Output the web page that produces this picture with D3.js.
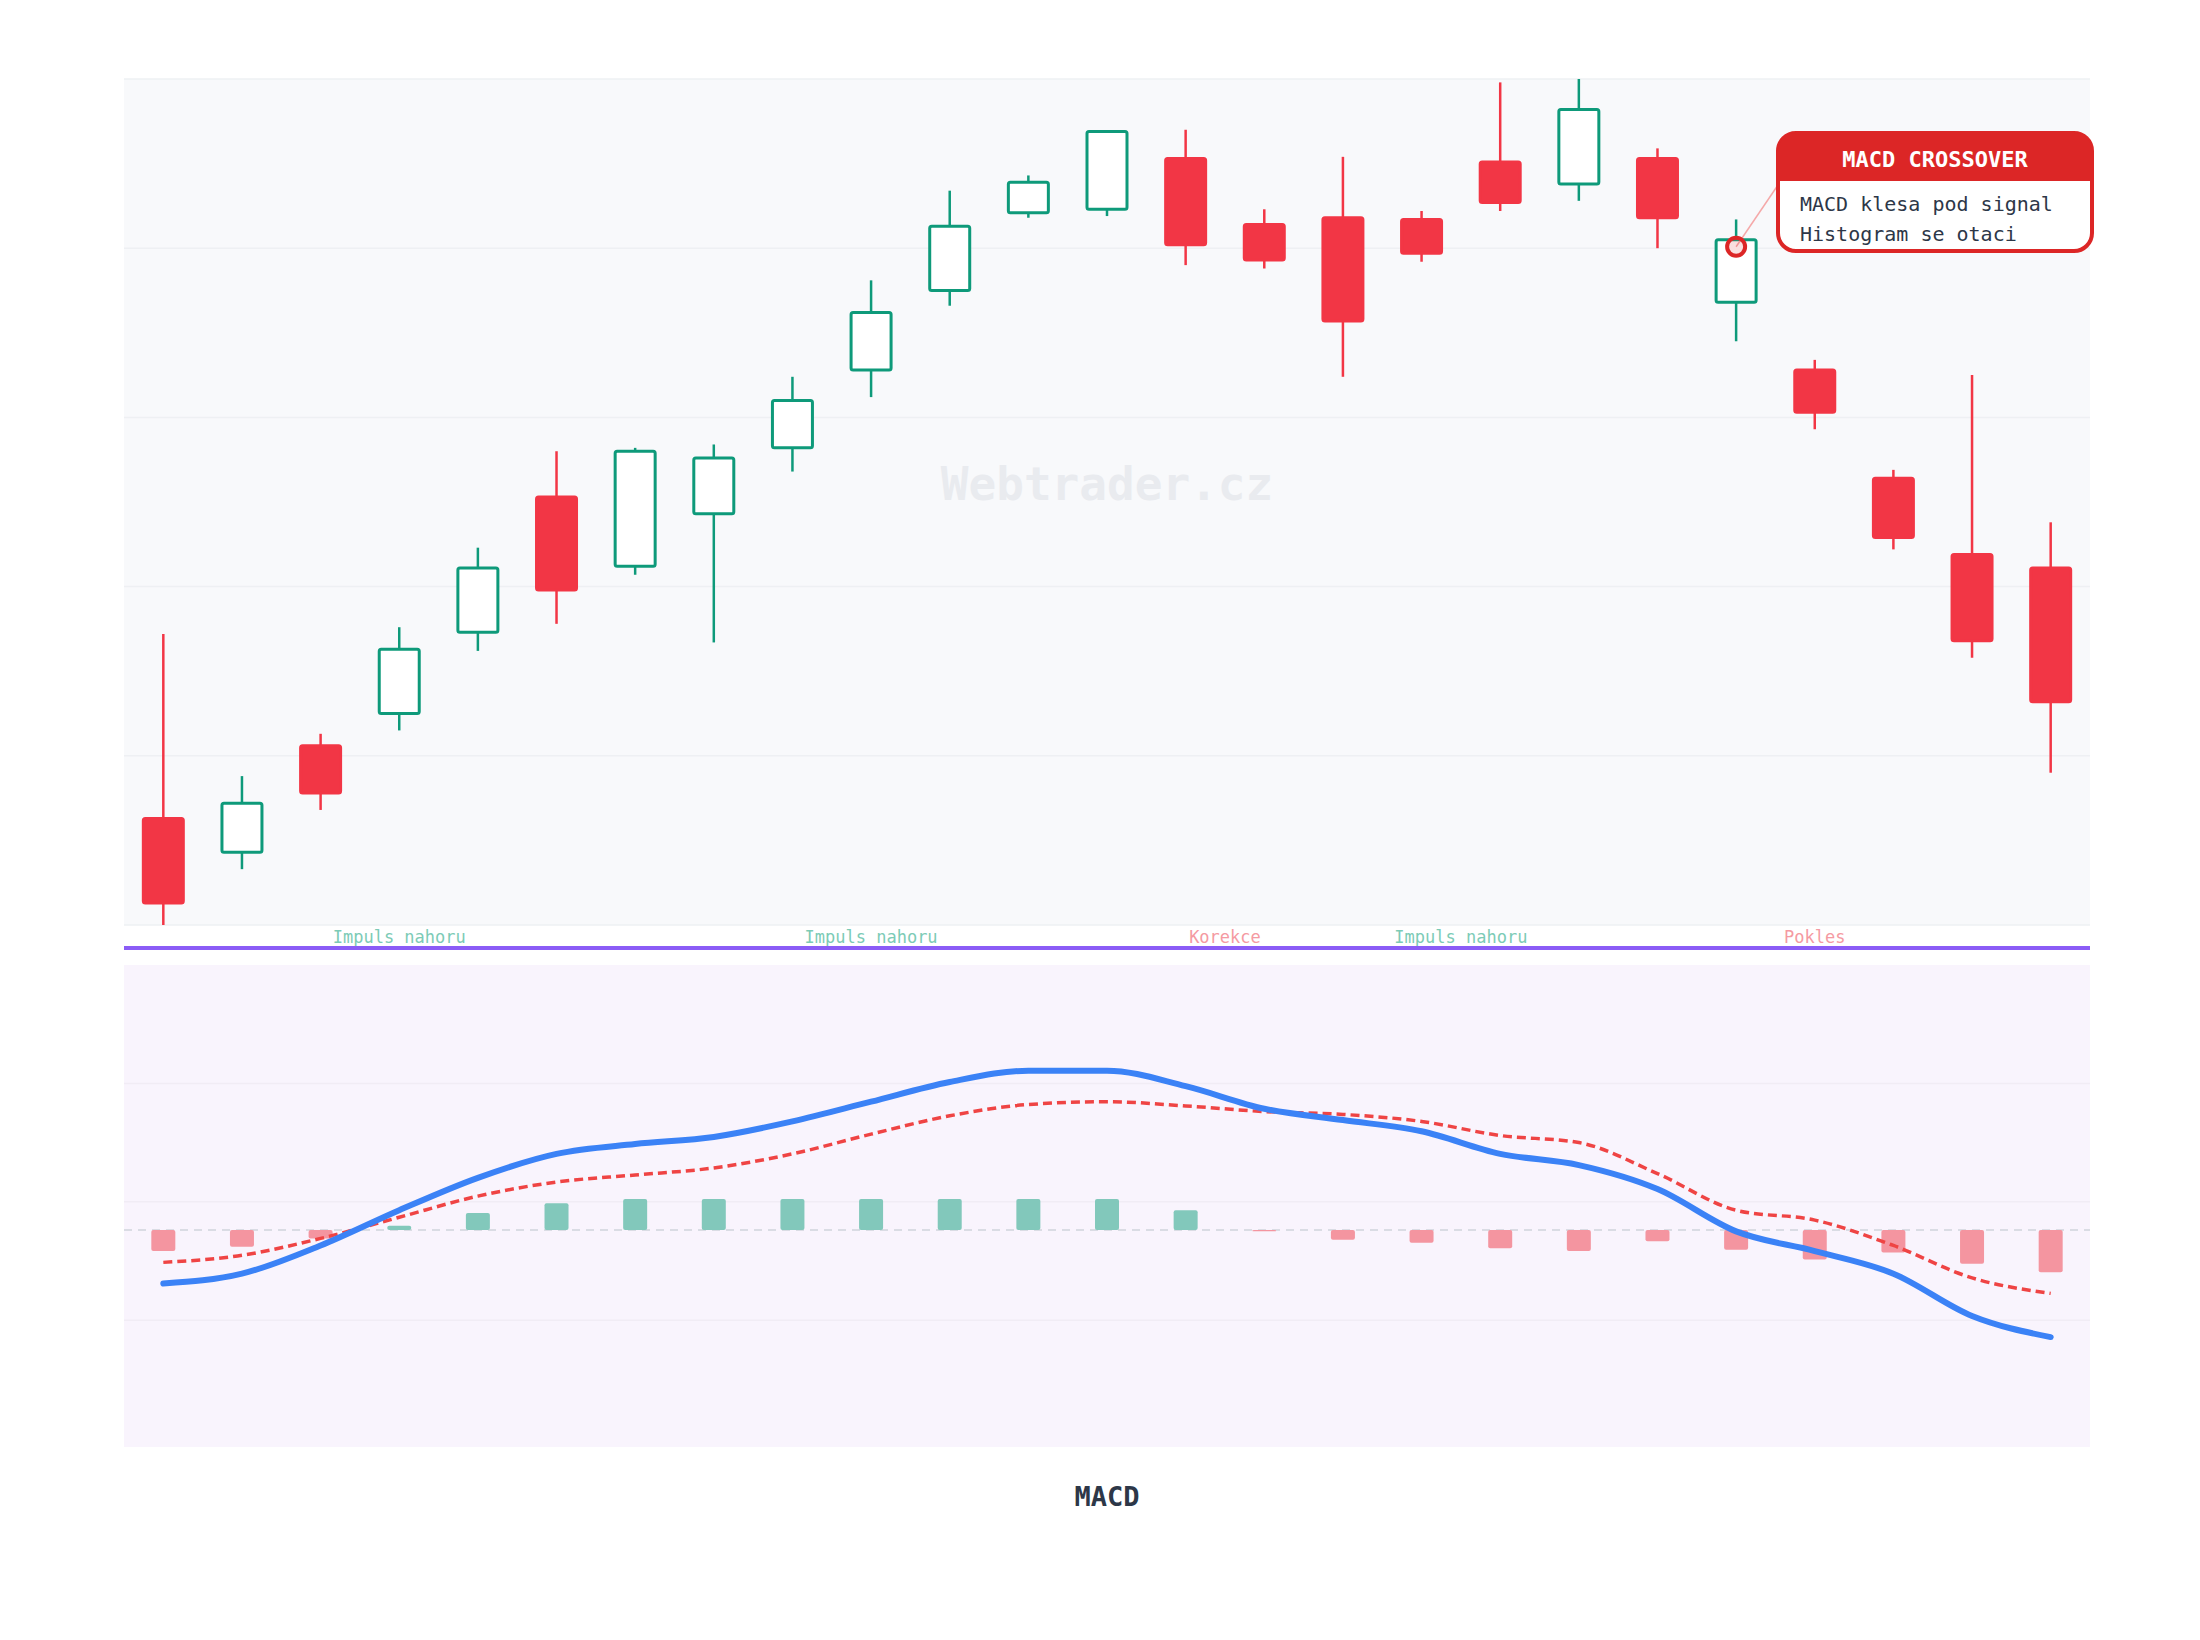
<!DOCTYPE html>
<html><head><meta charset="utf-8">
<script src="https://cdn.jsdelivr.net/npm/d3@7"></script>
<style>body{margin:0;background:#fff}svg{display:block}text{font-family:"DejaVu Sans Mono",monospace}</style>
</head><body><svg id="c" width="2200" height="1640"></svg>
<script>
const open  = [106.3,104.3,110.6,112.5,117.3,125.3,121.2,124.3,128.2,132.8,137.5,142.1,142.3,145.3,141.4,141.8,141.7,145.1,143.8,145.3,136.8,132.8,126.4,121.9,121.1];
const close = [101.3,107.2,107.8,116.3,121.1,119.8,128.0,127.6,131.0,136.2,141.3,143.9,146.9,140.2,139.3,135.7,139.7,142.7,148.2,141.8,140.5,130.3,122.9,116.8,113.2];
const high  = [117.2,108.8,111.3,117.6,122.3,128.0,128.2,128.4,132.4,138.1,143.4,144.3,146.9,147.0,142.3,145.4,142.2,149.8,150.0,145.9,141.7,133.4,126.9,132.5,123.8];
const low   = [100.0,103.3,106.8,111.5,116.2,117.8,120.7,116.7,126.8,131.2,136.6,141.8,141.9,139.0,138.8,132.4,139.2,142.2,142.8,140.0,134.5,129.3,122.2,115.8,109.0];
const macd  = [-1.9,-1.55,-0.55,0.7,1.85,2.7,3.05,3.3,3.85,4.55,5.25,5.65,5.65,5.1,4.3,3.9,3.5,2.7,2.3,1.45,-0.05,-0.75,-1.55,-3.05,-3.8];
const signal= [-1.15,-0.9,-0.3,0.45,1.2,1.7,1.95,2.2,2.7,3.4,4.05,4.45,4.55,4.4,4.2,4.1,3.85,3.35,3.1,2.0,0.7,0.35,-0.55,-1.7,-2.25];
const hist  = [-0.75,-0.6,-0.3,0.15,0.6,0.95,1.1,1.1,1.1,1.1,1.1,1.1,1.1,0.7,-0.05,-0.35,-0.45,-0.65,-0.75,-0.4,-0.7,-1.05,-0.8,-1.2,-1.5];
const phases = [{label:"Impuls nahoru",at:3,up:true},{label:"Impuls nahoru",at:9,up:true},{label:"Korekce",at:13.5,up:false},{label:"Impuls nahoru",at:16.5,up:true},{label:"Pokles",at:21,up:false}];
const priceTicks=[100,110,120,130,140,150];
const macdTicks=[5.2,1.0,-3.2];

const idx=d3.range(open.length);
const svg=d3.select("#c");
const L=124,R=2090,T=79,B=925,MT=965,MB=1447;
const x=d3.scalePoint().domain(idx).range([L,R]).padding(0.5);
const y=d3.scaleLinear().domain([100,150]).range([B,T]);
const ym=d3.scaleLinear().domain([-7.7,9.4]).range([MB,MT]);
const xAt=v=>x(0)+v*x.step();
const G="#0e9a7a",Rd="#f23645";

svg.append("rect").attr("x",L).attr("y",T).attr("width",R-L).attr("height",B-T).attr("fill","#f8f9fb");
svg.selectAll(".pg").data(priceTicks).join("line").attr("x1",L).attr("x2",R).attr("y1",d=>y(d)).attr("y2",d=>y(d)).attr("stroke","#eef0f3").attr("stroke-width",1.5);
svg.append("text").attr("x",(L+R)/2).attr("y",500).attr("text-anchor","middle").attr("font-size",46).attr("font-weight","bold").attr("fill","#e9ebef").text("Webtrader.cz");

const c=svg.selectAll(".c").data(idx).join("g");
c.append("line").attr("x1",i=>x(i)).attr("x2",i=>x(i)).attr("y1",i=>y(high[i])).attr("y2",i=>y(low[i])).attr("stroke",i=>close[i]>=open[i]?G:Rd).attr("stroke-width",2.5);
c.append("rect").attr("x",i=>x(i)-20).attr("width",40)
 .attr("y",i=>y(Math.max(open[i],close[i]))).attr("height",i=>Math.abs(y(open[i])-y(close[i])))
 .attr("rx",2).attr("fill",i=>close[i]>=open[i]?"#fff":Rd).attr("stroke",i=>close[i]>=open[i]?G:Rd).attr("stroke-width",3);

svg.selectAll(".ph").data(phases).join("text").attr("x",d=>xAt(d.at)).attr("y",943).attr("text-anchor","middle").attr("font-size",17).attr("fill",d=>d.up?"#7ccbb6":"#f59aa2").text(d=>d.label);
svg.append("line").attr("x1",L).attr("x2",R).attr("y1",948).attr("y2",948).attr("stroke","#8b5cf6").attr("stroke-width",4);

svg.append("rect").attr("x",L).attr("y",MT).attr("width",R-L).attr("height",MB-MT).attr("fill","#f9f4fd");
svg.selectAll(".mg").data(macdTicks).join("line").attr("x1",L).attr("x2",R).attr("y1",d=>ym(d)).attr("y2",d=>ym(d)).attr("stroke","#f1ecf5").attr("stroke-width",1.5);
svg.append("line").attr("x1",L).attr("x2",R).attr("y1",ym(0)).attr("y2",ym(0)).attr("stroke","#cfd3dc").attr("stroke-width",1.5).attr("stroke-dasharray","8,6");
svg.selectAll(".h").data(idx).join("rect").attr("x",i=>x(i)-12).attr("width",24)
 .attr("y",i=>ym(Math.max(0,hist[i]))).attr("height",i=>Math.abs(ym(hist[i])-ym(0))).attr("rx",2)
 .attr("fill",i=>hist[i]>=0?"#82c8bb":"#f495a0");
const ln=arr=>d3.line().x(i=>x(i)).y(i=>ym(arr[i])).curve(d3.curveMonotoneX)(idx);
svg.append("path").attr("d",ln(signal)).attr("fill","none").attr("stroke","#ef4444").attr("stroke-width",3.5).attr("stroke-dasharray","9,5");
svg.append("path").attr("d",ln(macd)).attr("fill","none").attr("stroke","#3b82f6").attr("stroke-width",6).attr("stroke-linecap","round");

svg.append("text").attr("x",(L+R)/2).attr("y",1506).attr("text-anchor","middle").attr("font-size",27).attr("font-weight","bold").attr("fill","#2d3748").text("MACD");

// annotation
const ai=20, cx=x(ai), cy=y(close[ai])+7;
const bx=1778,by=133,bw=314,bh=118;
svg.append("line").attr("x1",cx).attr("y1",cy).attr("x2",bx).attr("y2",by+52).attr("stroke","#f5a9a9").attr("stroke-width",1.5);
svg.append("circle").attr("cx",cx).attr("cy",cy).attr("r",9).attr("fill","rgba(220,38,38,0.15)").attr("stroke","#dc2626").attr("stroke-width",4);
svg.append("rect").attr("x",bx).attr("y",by).attr("width",bw).attr("height",bh).attr("rx",18).attr("fill","#fff").attr("stroke","#dc2626").attr("stroke-width",4);
svg.append("path").attr("d",`M${bx},${by+48}V${by+18}a18,18 0 0 1 18,-18H${bx+bw-18}a18,18 0 0 1 18,18V${by+48}Z`).attr("fill","#dc2626");
svg.append("text").attr("x",bx+bw/2).attr("y",by+34).attr("text-anchor","middle").attr("font-size",22).attr("font-weight","bold").attr("fill","#fff").text("MACD CROSSOVER");
svg.append("text").attr("x",bx+22).attr("y",by+78).attr("font-size",20).attr("fill","#2d3748").text("MACD klesa pod signal");
svg.append("text").attr("x",bx+22).attr("y",by+108).attr("font-size",20).attr("fill","#2d3748").text("Histogram se otaci");
</script></body></html>
